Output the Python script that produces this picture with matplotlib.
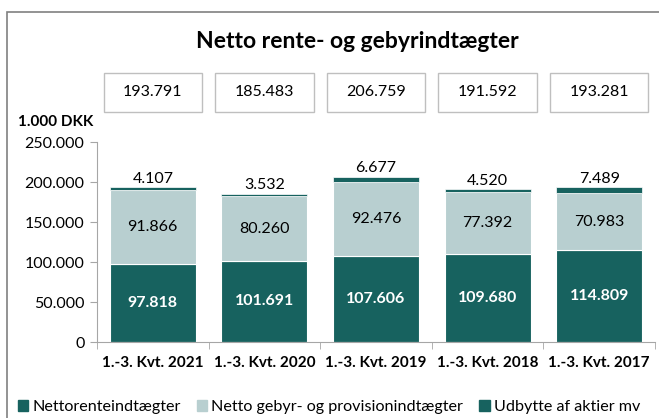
import matplotlib.pyplot as plt
from matplotlib.patches import Rectangle
from matplotlib.transforms import blended_transform_factory
import numpy as np

categories = ["1.-3. Kvt. 2021", "1.-3. Kvt. 2020", "1.-3. Kvt. 2019",
              "1.-3. Kvt. 2018", "1.-3. Kvt. 2017"]
nettorente = [97818, 101691, 107606, 109680, 114809]
gebyr = [91866, 80260, 92476, 77392, 70983]
udbytte = [4107, 3532, 6677, 4520, 7489]
totals = [193791, 185483, 206759, 191592, 193281]
yticks = [0, 50000, 100000, 150000, 200000, 250000]

DARK = "#17625f"
LIGHT = "#b8cfd0"
GRID = "#a6a6a6"

plt.rcParams["font.family"] = ["Lato", "DejaVu Sans"]


def dk(v):
    return f"{v:,}".replace(",", ".")


fig = plt.figure(figsize=(6.59, 4.18), dpi=100)
ax = fig.add_axes([97 / 659, 1 - 342 / 418, 558 / 659, 200 / 418])

x = np.arange(len(categories))
w = 0.77
ax.bar(x, nettorente, w, color=DARK, edgecolor="white", linewidth=0.8)
ax.bar(x, gebyr, w, bottom=nettorente, color=LIGHT, edgecolor="white", linewidth=0.8)
bottom3 = np.array(nettorente) + np.array(gebyr)
ax.bar(x, udbytte, w, bottom=bottom3, color=DARK, edgecolor="white", linewidth=0.5)

for i in range(len(categories)):
    ax.text(x[i], nettorente[i] / 2, dk(nettorente[i]), ha="center", va="center",
            color="white", fontsize=11.5, fontweight="bold")
    ax.text(x[i], nettorente[i] + gebyr[i] / 2, dk(gebyr[i]), ha="center", va="center",
            color="black", fontsize=11.5)
    ax.text(x[i], bottom3[i] + udbytte[i] + 1500, dk(udbytte[i]), ha="center", va="bottom",
            color="black", fontsize=11.5)

ax.set_xlim(-0.5, len(categories) - 0.5)
ax.set_ylim(0, 250000)
ax.set_yticks(yticks)
ax.set_yticklabels([dk(v) for v in yticks], fontsize=11.5)
ax.set_xticks(x)
ax.set_xticklabels(categories, fontsize=11, fontweight="bold")
ax.set_xticks(np.arange(-0.5, len(categories)), minor=True)
ax.tick_params(axis="x", which="major", length=0, pad=10)
ax.tick_params(axis="x", which="minor", length=5, color=GRID)
ax.tick_params(axis="y", length=5, color=GRID, pad=4)
for s in ["top", "right"]:
    ax.spines[s].set_visible(False)
for s in ["left", "bottom"]:
    ax.spines[s].set_color(GRID)

# total boxes above bars
tr = blended_transform_factory(ax.transData, fig.transFigure)
for i, t in enumerate(totals):
    fig.add_artist(Rectangle((x[i] - 0.44, 1 - 112 / 418), 0.88, 39 / 418, transform=tr,
                             facecolor="white", edgecolor="#bfbfbf", linewidth=1,
                             clip_on=False, zorder=1))
    fig.text(x[i], 1 - 92 / 418, dk(t), transform=tr, ha="center", va="center",
             fontsize=11.5, zorder=5)

fig.text(18 / 659, 1 - 122 / 418, "1.000 DKK", ha="left", va="center",
         fontsize=11, fontweight="bold")
fig.text(357 / 659, 1 - 42 / 418, "Netto rente- og gebyrindtægter", ha="center",
         va="center", fontsize=16.5, fontweight="bold")

# outer frame
fig.add_artist(Rectangle((7 / 659, -0.05), 1.0, 1 - 12 / 418 + 0.05,
                         transform=fig.transFigure, fill=False,
                         edgecolor="#808080", linewidth=1.2))

handles = [Rectangle((0, 0), 1, 1, color=DARK), Rectangle((0, 0), 1, 1, color=LIGHT),
           Rectangle((0, 0), 1, 1, color=DARK)]
labels = ["Nettorenteindtægter", "Netto gebyr- og provisionindtægter", "Udbytte af aktier mv"]
fig.legend(handles, labels, loc="center left", bbox_to_anchor=(18 / 659, 1 - 407 / 418),
           ncol=3, frameon=False, fontsize=11.6, handlelength=0.65, handleheight=0.65,
           handletextpad=0.25, columnspacing=1.0, borderaxespad=0, borderpad=0)

fig.savefig("out.png", dpi=100)
